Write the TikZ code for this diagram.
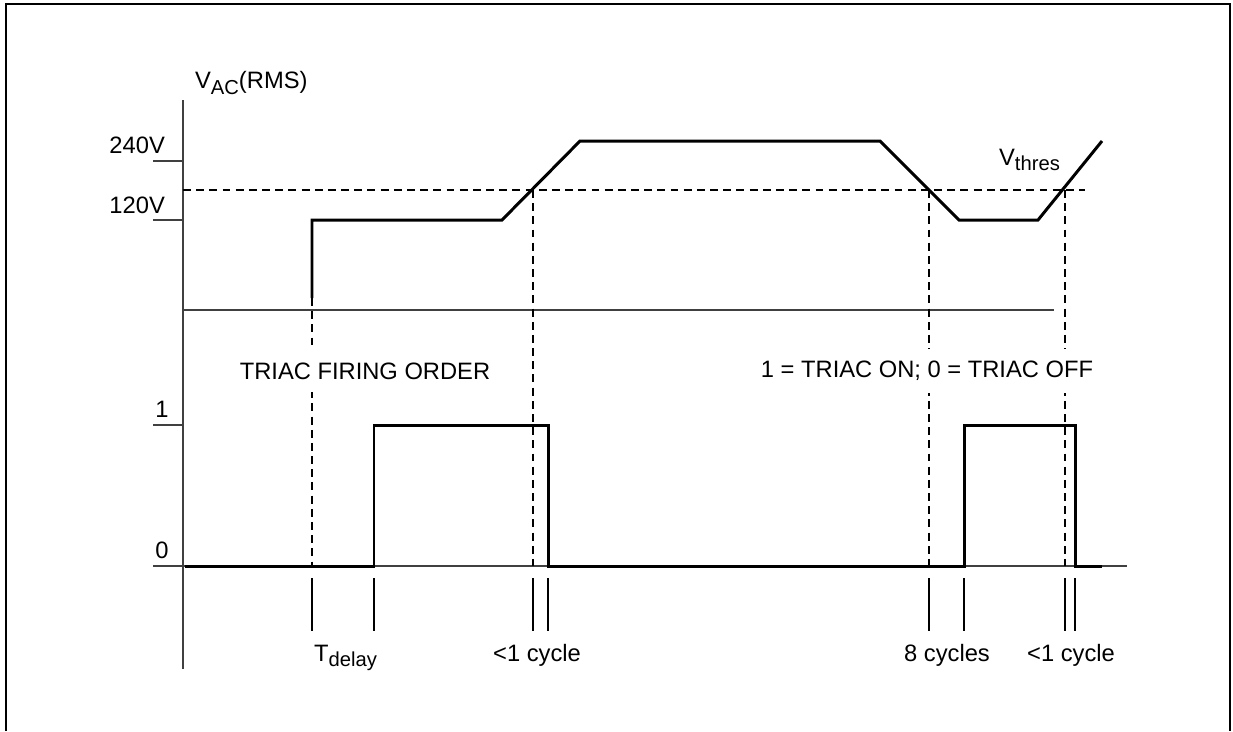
\documentclass[tikz,border=0pt]{standalone}
\usepackage{fontspec}
\setmainfont{Liberation Sans}
\usepackage{tikz}
\usetikzlibrary{positioning}
\definecolor{AxisGray}{HTML}{404040}
\newcommand{\lowtxt}[1]{\raisebox{-0.45ex}{\fontsize{11.5}{12}\selectfont #1}}

\begin{document}
\begin{tikzpicture}[x=0.02cm,y=-0.02cm,font=\fontsize{13.5}{16}\selectfont,
  wave/.style={line width=1.7pt,line join=miter},
  axis/.style={AxisGray,line width=0.8pt},
  guide/.style={line width=0.7pt,dash pattern=on 4.5pt off 3pt},
  tickbar/.style={line width=1.6pt},
  lbl/.style={inner sep=1pt},
  gaplbl/.style={fill=white,inner xsep=2pt,inner ysep=7pt}]
  \useasboundingbox (0,0) rectangle (1233,731);
  % frame
  \draw[line width=1.2pt] (6,731)--(6,4)--(1230,4)--(1230,731);
  % reference points
  \coordinate (zero) at (183,566);
  \coordinate (cutA) at (533,190);
  \coordinate (cutB) at (929,190);
  \coordinate (cutC) at (1065,190);
  \coordinate (start) at (312,298);
  % axes
  \draw[axis] (183,100)--(183,669);
  \draw[axis] (153,161)--(183,161);
  \draw[axis] (153,220)--(183,220);
  \draw[axis] (183,310)--(1054,310);
  \draw[axis] (153,425)--(183,425);
  \draw[axis] (153,566)--(1127,566);
  % threshold and guides
  \draw[guide] (183,190)--(1085,190);
  \draw[guide] (start)--(start |- zero);
  \draw[guide] (cutA)--(cutA |- zero);
  \draw[guide] (cutB)--(cutB |- zero);
  \draw[guide] (cutC)--(cutC |- zero);
  % mains voltage
  \draw[wave] (start)--(312,220)--(502,220)--(580,141)--(880,141)--(959,220)--(1038,220)--(1102,141);
  % firing order
  \draw[wave] (185,566)--(374,566)--(374,425)--(548,425)--(548,566)--(964,566)--(964,425)--(1075,425)--(1075,566)--(1102,566);
  % time marks
  \foreach \t in {312,374,533,548,929,964,1065,1075}
    \draw[tickbar] (\t,578)--(\t,631);
  % labels
  \node[lbl,anchor=west] (vac) at (193,83) {V\lowtxt{AC}(RMS)};
  \node[lbl,anchor=east] (hi) at (167,145) {240V};
  \node[lbl,anchor=east] (lo) at (167,205) {120V};
  \node[lbl,anchor=west] (vth) at (997,160) {V\lowtxt{thres}};
  \node[gaplbl] (fire) at (365,371) {TRIAC FIRING ORDER};
  \node[gaplbl] (legend) at (927,371) {1 = TRIAC ON; 0 = TRIAC OFF};
  \node[lbl] (one) at (162,409) {1};
  \node[lbl] (nul) at (162,550) {0};
  \node[lbl,anchor=base west] (tdel) at (312,661) {T\lowtxt{delay}};
  \node[lbl,anchor=base] (cyA) at (537,661) {<1 cycle};
  \node[lbl,anchor=base] (cyB) at (947,661) {8 cycles};
  \node[lbl,anchor=base] (cyC) at (1071,661) {<1 cycle};
\end{tikzpicture}
\end{document}
